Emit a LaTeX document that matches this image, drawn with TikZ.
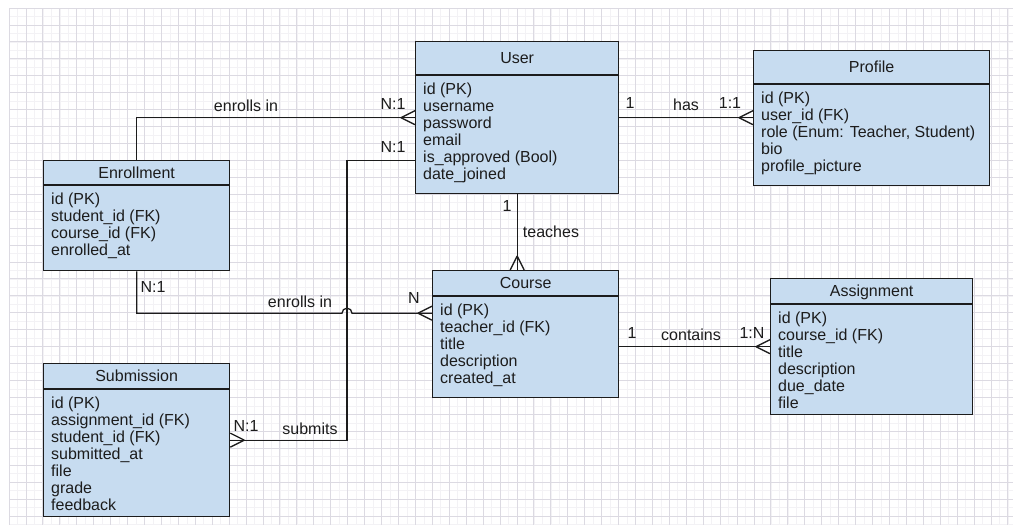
\documentclass[tikz,border=0pt]{standalone}
\usepackage{fontspec}
\setmainfont{Liberation Sans}
\usetikzlibrary{decorations.markings}

\definecolor{entfill}{RGB}{199,220,240}
\definecolor{gridmaj}{RGB}{220,218,226}
\definecolor{gridmin}{RGB}{243,242,245}
\definecolor{ink}{RGB}{28,28,28}

% entity box: name, x, y, width, height, header height, title, attributes
\newcommand\erentity[8]{%
  \node[entbox, minimum width=#4pt, minimum height=#5pt, anchor=north west] (#1) at (#2,#3) {};
  \draw[entline] ([yshift=-#6pt]#1.north west) -- ([yshift=-#6pt]#1.north east);
  \node[enttitle] (#1-title) at ([yshift=-#6pt/2]#1.north) {#7};
  \node[entattr, anchor=north west] (#1-attr) at ([xshift=8pt,yshift=-#6pt-8pt]#1.north west) {#8};
}

\begin{document}
\begin{tikzpicture}[x=1pt,y=-1pt,
  entbox/.style={draw=ink, line width=1.3pt, fill=entfill, inner sep=0pt, rectangle},
  entline/.style={draw=ink, line width=1.3pt},
  enttitle/.style={inner sep=0pt, text=ink, text height=11.5pt, text depth=0pt, font=\fontsize{16}{17}\selectfont},
  entattr/.style={inner sep=0pt, text=ink, align=left, font=\fontsize{16}{17}\selectfont},
  conn/.style={draw=ink, line width=1.3pt},
  crow/.style={postaction={decorate, decoration={markings,
      mark=at position 1 with {\draw[conn] (-14pt,0pt) -- (0pt,7pt) (-14pt,0pt) -- (0pt,-7pt);}}}},
  lbl/.style={inner sep=0pt, text=ink, font=\fontsize{16}{17}\selectfont}]

\fill[white] (0,0) rectangle (1013,525);
\useasboundingbox (0,0) rectangle (1013,525);

% graph paper
\foreach \i in {0,...,118} \draw[gridmin, line width=0.5pt] (9+\i*8.465,8) -- (9+\i*8.465,525);
\foreach \j in {0,...,61} \draw[gridmin, line width=0.5pt] (9,8+\j*8.465) -- (1013,8+\j*8.465);
\foreach \i in {0,...,59} \draw[gridmaj, line width=0.8pt] (9+\i*16.93,8) -- (9+\i*16.93,525);
\foreach \j in {0,...,30} \draw[gridmaj, line width=0.8pt] (9,8+\j*16.93) -- (1013,8+\j*16.93);

% entities
\erentity{user}{415}{41}{203}{152}{34}{User}{id (PK)\\username\\password\\email\\is\_approved (Bool)\\date\_joined}
\erentity{profile}{753}{50}{236}{135}{34}{Profile}{id (PK)\\user\_id (FK)\\role (Enum: Teacher, Student)\\bio\\profile\_picture}
\erentity{enrollment}{43}{160}{186}{110}{25}{Enrollment}{id (PK)\\student\_id (FK)\\course\_id (FK)\\enrolled\_at}
\erentity{course}{432}{270}{186}{127}{26}{Course}{id (PK)\\teacher\_id (FK)\\title\\description\\created\_at}
\erentity{assignment}{770}{278}{202}{136}{26}{Assignment}{id (PK)\\course\_id (FK)\\title\\description\\due\_date\\file}
\erentity{submission}{43}{363}{186}{153}{26}{Submission}{id (PK)\\assignment\_id (FK)\\student\_id (FK)\\submitted\_at\\file\\grade\\feedback}

% helper points
\coordinate (bus) at (347,0);
\coordinate (uB) at ([yshift=-43pt]user.west);
\coordinate (cC) at ([yshift=21pt]course.west);
\coordinate (hop) at (bus |- cC);

% relationships
\draw[conn,crow] (enrollment.north) |- (user.west);
\draw[conn,crow] (uB) -- (uB -| bus) -- (bus |- submission.east) -- (submission.east);
\draw[conn,crow] (enrollment.south) |- ([xshift=-5pt]hop) arc[start angle=180, end angle=0, radius=5pt] -- (cC);
\draw[conn,crow] (user.south) -- (user.south |- course.north);
\draw[conn,crow] (user.east) -- (user.east -| profile.west);
\draw[conn,crow] (assignment.west -| course.east) -- (assignment.west);

% relationship labels
\node[lbl] (l1) at (246,106) {enrolls in};
\node[lbl] (l2) at (393,104) {N:1};
\node[lbl] (l3) at (393,147) {N:1};
\node[lbl] (l4) at (630,103) {1};
\node[lbl] (l5) at (686,105) {has};
\node[lbl] (l6) at (730,103) {1:1};
\node[lbl] (l7) at (507,206) {1};
\node[lbl] (l8) at (551,232) {teaches};
\node[lbl] (l9) at (153,287) {N:1};
\node[lbl] (l10) at (300,302) {enrolls in};
\node[lbl] (l11) at (414,298) {N};
\node[lbl] (l12) at (632,333) {1};
\node[lbl] (l13) at (691,335) {contains};
\node[lbl] (l14) at (752,333) {1:N};
\node[lbl] (l15) at (310,429) {submits};
\node[lbl] (l16) at (246,426) {N:1};
\end{tikzpicture}
\end{document}
